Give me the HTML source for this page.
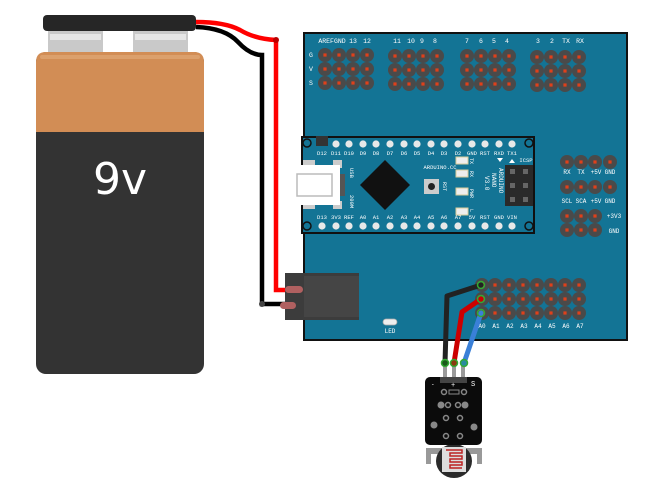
<!DOCTYPE html>
<html><head><meta charset="utf-8"><style>body{margin:0;background:#fff}svg{display:block}text{font-family:"Liberation Mono","DejaVu Sans Mono",monospace;fill:#fff}</style></head><body>
<svg width="651" height="495" viewBox="0 0 651 495" xmlns="http://www.w3.org/2000/svg">
<defs>
<g id="p"><circle r="7" fill="#4a4a4a"/><rect x="-1.6" y="-1.6" width="3.2" height="3.2" fill="#e0401a"/></g>
<g id="h"><circle r="3.6" fill="#e8e8e8"/></g>
</defs>
<!-- battery -->
<rect x="36" y="52" width="168" height="322" rx="10" fill="#333"/>
<path d="M46 52 H194 Q204 52 204 62 V132 H36 V62 Q36 52 46 52Z" fill="#d28d55"/>
<rect x="40" y="55" width="160" height="4" rx="2" fill="#dca06c"/>
<rect x="48" y="30" width="55" height="22" fill="#c9c9c9"/><rect x="133" y="30" width="55" height="22" fill="#c9c9c9"/>
<rect x="50" y="34" width="51" height="6" fill="#e6e6e6"/><rect x="135" y="34" width="51" height="6" fill="#e6e6e6"/>
<rect x="43" y="15" width="153" height="16" rx="4" fill="#262626"/>
<text x="120" y="194" font-size="44" text-anchor="middle" style="font-family:'DejaVu Sans',sans-serif">9v</text>
<!-- battery wires -->
<path d="M196 27 Q225 28 238 42 Q250 55 262 55 V304 H290" fill="none" stroke="#000" stroke-width="4.5"/>
<path d="M196 22 Q225 22 240 30 Q255 39 276 40 V290 H296" fill="none" stroke="#f00" stroke-width="4.5"/>
<circle cx="276" cy="40" r="3" fill="#b00"/><circle cx="262" cy="304" r="3" fill="#444"/>
<!-- board -->
<rect x="304" y="33" width="323" height="307" fill="#137495" stroke="#111" stroke-width="2"/>
<!-- dc jack -->
<rect x="285" y="273" width="74" height="47" fill="#3c3c3c"/>
<rect x="304" y="276" width="55" height="41" fill="#454545"/>
<rect x="285" y="286" width="18" height="7" rx="3.5" fill="#b06060"/>
<rect x="280" y="302" width="16" height="7" rx="3.5" fill="#b06060"/>
<!-- top header -->
<g>
<use href="#p" x="325" y="55"/><use href="#p" x="339" y="55"/><use href="#p" x="353" y="55"/><use href="#p" x="367" y="55"/>
<use href="#p" x="325" y="69"/><use href="#p" x="339" y="69"/><use href="#p" x="353" y="69"/><use href="#p" x="367" y="69"/>
<use href="#p" x="325" y="83"/><use href="#p" x="339" y="83"/><use href="#p" x="353" y="83"/><use href="#p" x="367" y="83"/>
<use href="#p" x="395" y="56"/><use href="#p" x="409" y="56"/><use href="#p" x="423" y="56"/><use href="#p" x="437" y="56"/>
<use href="#p" x="395" y="70"/><use href="#p" x="409" y="70"/><use href="#p" x="423" y="70"/><use href="#p" x="437" y="70"/>
<use href="#p" x="395" y="84"/><use href="#p" x="409" y="84"/><use href="#p" x="423" y="84"/><use href="#p" x="437" y="84"/>
<use href="#p" x="467" y="56"/><use href="#p" x="481" y="56"/><use href="#p" x="495" y="56"/><use href="#p" x="509" y="56"/>
<use href="#p" x="467" y="70"/><use href="#p" x="481" y="70"/><use href="#p" x="495" y="70"/><use href="#p" x="509" y="70"/>
<use href="#p" x="467" y="84"/><use href="#p" x="481" y="84"/><use href="#p" x="495" y="84"/><use href="#p" x="509" y="84"/>
<use href="#p" x="537" y="57"/><use href="#p" x="551" y="57"/><use href="#p" x="565" y="57"/><use href="#p" x="579" y="57"/>
<use href="#p" x="537" y="71"/><use href="#p" x="551" y="71"/><use href="#p" x="565" y="71"/><use href="#p" x="579" y="71"/>
<use href="#p" x="537" y="85"/><use href="#p" x="551" y="85"/><use href="#p" x="565" y="85"/><use href="#p" x="579" y="85"/>
</g>
<g font-size="6.5" text-anchor="middle">
<text x="332" y="43">AREFGND</text><text x="353" y="43">13</text><text x="367" y="43">12</text>
<text x="397" y="43">11</text><text x="411" y="43">10</text><text x="422" y="43">9</text><text x="435" y="43">8</text>
<text x="467" y="43">7</text><text x="481" y="43">6</text><text x="494" y="43">5</text><text x="507" y="43">4</text>
<text x="538" y="43">3</text><text x="552" y="43">2</text><text x="566" y="43">TX</text><text x="580" y="43">RX</text>
<text x="311" y="57">G</text><text x="311" y="71">V</text><text x="311" y="85">S</text>
</g>
<!-- nano -->
<rect x="302" y="137" width="232" height="96" fill="#137495" stroke="#111" stroke-width="2"/>
<g fill="none" stroke="#111" stroke-width="1.5"><circle cx="307" cy="143" r="4"/><circle cx="529" cy="143" r="4"/><circle cx="307" cy="226" r="4"/><circle cx="529" cy="226" r="4"/></g>
<rect x="316" y="136" width="12" height="10" fill="#333"/>
<g>
<use href="#h" x="336" y="144"/><use href="#h" x="349" y="144"/><use href="#h" x="363" y="144"/><use href="#h" x="376" y="144"/><use href="#h" x="390" y="144"/><use href="#h" x="404" y="144"/><use href="#h" x="417" y="144"/><use href="#h" x="431" y="144"/><use href="#h" x="444" y="144"/><use href="#h" x="458" y="144"/><use href="#h" x="472" y="144"/><use href="#h" x="485" y="144"/><use href="#h" x="499" y="144"/><use href="#h" x="512" y="144"/>
<use href="#h" x="322" y="226"/><use href="#h" x="336" y="226"/><use href="#h" x="349" y="226"/><use href="#h" x="363" y="226"/><use href="#h" x="376" y="226"/><use href="#h" x="390" y="226"/><use href="#h" x="404" y="226"/><use href="#h" x="417" y="226"/><use href="#h" x="431" y="226"/><use href="#h" x="444" y="226"/><use href="#h" x="458" y="226"/><use href="#h" x="472" y="226"/><use href="#h" x="485" y="226"/><use href="#h" x="499" y="226"/><use href="#h" x="512" y="226"/>
</g>
<g font-size="5.5" text-anchor="middle">
<text x="322" y="155">D12</text><text x="336" y="155">D11</text><text x="349" y="155">D10</text><text x="363" y="155">D9</text><text x="376" y="155">D8</text><text x="390" y="155">D7</text><text x="404" y="155">D6</text><text x="417" y="155">D5</text><text x="431" y="155">D4</text><text x="444" y="155">D3</text><text x="458" y="155">D2</text><text x="472" y="155">GND</text><text x="485" y="155">RST</text><text x="499" y="155">RXD</text><text x="512" y="155">TX1</text>
<text x="322" y="219">D13</text><text x="336" y="219">3V3</text><text x="349" y="219">REF</text><text x="363" y="219">A0</text><text x="376" y="219">A1</text><text x="390" y="219">A2</text><text x="404" y="219">A3</text><text x="417" y="219">A4</text><text x="431" y="219">A5</text><text x="444" y="219">A6</text><text x="458" y="219">A7</text><text x="472" y="219">5V</text><text x="485" y="219">RST</text><text x="499" y="219">GND</text><text x="512" y="219">VIN</text>
<text x="440" y="169">ARDUINO.CC</text><text x="526" y="162">ICSP</text>
</g>
<rect x="303" y="160" width="12" height="8" fill="#ccc"/><rect x="303" y="201" width="12" height="8" fill="#ccc"/><rect x="333" y="160" width="9" height="8" fill="#ccc"/><rect x="333" y="201" width="9" height="8" fill="#ccc"/>
<rect x="293" y="165" width="47" height="40" fill="#fff"/>
<rect x="297" y="174" width="35" height="22" fill="none" stroke="#bbb" stroke-width="1.5"/>
<rect x="340" y="174" width="5" height="22" fill="#555"/>
<text x="350" y="168" font-size="5.5" transform="rotate(90 350 168)">USB</text>
<text x="350" y="195" font-size="5.5" transform="rotate(90 350 195)">200M</text>
<path d="M385 160 L410 185 L385 210 L360 185Z" fill="#111"/>
<rect x="424" y="179" width="15" height="15" fill="#ccc"/><circle cx="431.5" cy="186.5" r="3.5" fill="#222"/>
<text x="443" y="182" font-size="5" transform="rotate(90 443 182)">RST</text>
<g fill="#eee" stroke="#d8cc9a" stroke-width="1"><rect x="456" y="157" width="12" height="7"/><rect x="456" y="170" width="12" height="7"/><rect x="456" y="188" width="12" height="7"/><rect x="456" y="208" width="12" height="7"/></g>
<g font-size="5"><text x="470" y="158" transform="rotate(90 470 158)">TX</text><text x="470" y="171" transform="rotate(90 470 171)">RX</text><text x="470" y="189" transform="rotate(90 470 189)">PWR</text><text x="470" y="209" transform="rotate(90 470 209)">L</text></g>
<g font-size="6"><text x="499" y="168" transform="rotate(90 499 168)">ARDUINO</text><text x="492" y="173" transform="rotate(90 492 173)">NANO</text><text x="485" y="176" transform="rotate(90 485 176)">V3.0</text></g>
<path d="M497 158 h6 l-3 4z M509 163 h6 l-3 -4z" fill="#fff"/>
<rect x="505" y="165" width="28" height="41" fill="#2a2a2a"/>
<g fill="#666"><rect x="510" y="169" width="5" height="5"/><rect x="523" y="169" width="5" height="5"/><rect x="510" y="183" width="5" height="5"/><rect x="523" y="183" width="5" height="5"/><rect x="510" y="197" width="5" height="5"/><rect x="523" y="197" width="5" height="5"/></g>
<!-- right side headers -->
<g>
<use href="#p" x="567" y="162"/><use href="#p" x="581" y="162"/><use href="#p" x="595" y="162"/><use href="#p" x="610" y="162"/>
<use href="#p" x="567" y="187"/><use href="#p" x="581" y="187"/><use href="#p" x="595" y="187"/><use href="#p" x="610" y="187"/>
<use href="#p" x="567" y="216"/><use href="#p" x="581" y="216"/><use href="#p" x="595" y="216"/>
<use href="#p" x="567" y="230"/><use href="#p" x="581" y="230"/><use href="#p" x="595" y="230"/>
</g>
<g font-size="6" text-anchor="middle">
<text x="567" y="174">RX</text><text x="581" y="174">TX</text><text x="596" y="174">+5V</text><text x="610" y="174">GND</text>
<text x="567" y="203">SCL</text><text x="581" y="203">SCA</text><text x="596" y="203">+5V</text><text x="610" y="203">GND</text>
<text x="614" y="218">+3V3</text><text x="614" y="233">GND</text>
</g>
<!-- bottom header -->
<g>
<use href="#p" x="482" y="285"/><use href="#p" x="495" y="285"/><use href="#p" x="509" y="285"/><use href="#p" x="523" y="285"/><use href="#p" x="537" y="285"/><use href="#p" x="551" y="285"/><use href="#p" x="565" y="285"/><use href="#p" x="579" y="285"/>
<use href="#p" x="482" y="299"/><use href="#p" x="495" y="299"/><use href="#p" x="509" y="299"/><use href="#p" x="523" y="299"/><use href="#p" x="537" y="299"/><use href="#p" x="551" y="299"/><use href="#p" x="565" y="299"/><use href="#p" x="579" y="299"/>
<use href="#p" x="482" y="313"/><use href="#p" x="495" y="313"/><use href="#p" x="509" y="313"/><use href="#p" x="523" y="313"/><use href="#p" x="537" y="313"/><use href="#p" x="551" y="313"/><use href="#p" x="565" y="313"/><use href="#p" x="579" y="313"/>
</g>
<g font-size="6" text-anchor="middle">
<text x="482" y="328">A0</text><text x="496" y="328">A1</text><text x="510" y="328">A2</text><text x="524" y="328">A3</text><text x="538" y="328">A4</text><text x="552" y="328">A5</text><text x="566" y="328">A6</text><text x="580" y="328">A7</text>
<text x="390" y="333">LED</text>
</g>
<rect x="383" y="319" width="14" height="6" rx="3" fill="#eee" stroke="#aaa" stroke-width="0.8"/>
<!-- sensor -->
<g fill="#9a9a9a"><rect x="443" y="363" width="4" height="16"/><rect x="452" y="363" width="4" height="16"/><rect x="461" y="363" width="4" height="16"/></g>
<rect x="426" y="448" width="56" height="6" fill="#999"/>
<rect x="426" y="448" width="5" height="16" fill="#999"/><rect x="477" y="448" width="5" height="16" fill="#999"/>
<ellipse cx="454" cy="461" rx="18" ry="17" fill="#2a2a2a"/>
<rect x="442" y="447" width="24" height="25" fill="#ddd"/>
<path d="M446 450 h16 v3 h-12 v3 h12 v3 h-12 v3 h12 v3 h-12 v3 h12" fill="none" stroke="#b22" stroke-width="1.5"/>
<rect x="425" y="377" width="57" height="68" rx="5" fill="#0b0b0b"/>
<rect x="440" y="377" width="27" height="6" fill="#444"/>
<g fill="none" stroke="#888" stroke-width="1.5"><circle cx="444" cy="392" r="2.5"/><circle cx="464" cy="392" r="2.5"/><circle cx="448" cy="405" r="2.5"/><circle cx="458" cy="405" r="2.5"/><circle cx="446" cy="418" r="2.5"/><circle cx="460" cy="418" r="2.5"/><circle cx="446" cy="436" r="2.5"/><circle cx="460" cy="436" r="2.5"/></g>
<g fill="#888"><circle cx="441" cy="405" r="3.5"/><circle cx="465" cy="405" r="3.5"/><circle cx="434" cy="425" r="3.5"/><circle cx="474" cy="427" r="3.5"/></g>
<rect x="449" y="390" width="10" height="4" fill="none" stroke="#888"/>
<text x="431" y="386" font-size="6">-</text><text x="451" y="387" font-size="7">+</text><text x="471" y="386" font-size="7">S</text>
<!-- wires to sensor -->
<g fill="none" stroke-linecap="round" stroke-linejoin="round" stroke-width="5">
<path d="M481 285 L447 296 L445 363" stroke="#222"/>
<path d="M481 299 L462 312 L454 363" stroke="#c00"/>
<path d="M481 313 L464 363" stroke="#3a80d8"/>
</g>
<g fill="none" stroke="#3a3" stroke-width="1.5"><circle cx="481" cy="285" r="3.5"/><circle cx="481" cy="299" r="3.5"/><circle cx="481" cy="313" r="3.5"/></g>
<g stroke="#3a3" stroke-width="1.5"><circle cx="445" cy="363" r="3.5" fill="#1a5a1a"/><circle cx="454" cy="363" r="3.5" fill="#8a3a10"/><circle cx="464" cy="363" r="3.5" fill="#2a8aa0"/></g>
</svg>
</body></html>
